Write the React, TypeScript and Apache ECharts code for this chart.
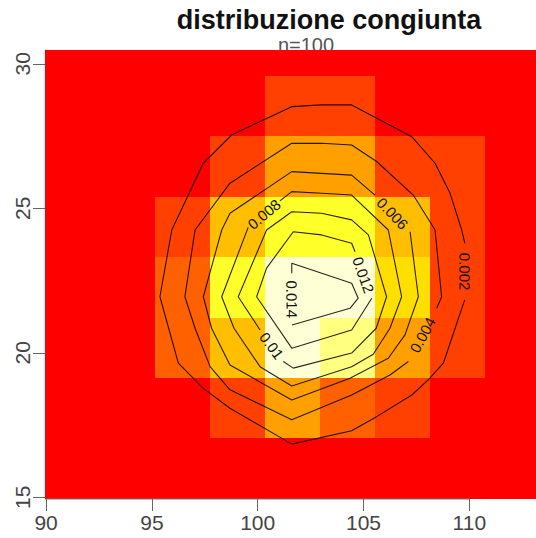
import React, { useEffect, useRef } from "react";
import * as echarts from "echarts";

// ---- image (heat map) grid ----
const cellXCenters = [91.25, 93.85, 96.45, 99.05, 101.65, 104.25, 106.85, 109.45, 112.05];
const cellYCenters = [15.99, 18.08, 20.17, 22.27, 24.36, 26.45, 28.54, 30.64];
// colour level (index into heatColors) per cell, rows from bottom (y) to top
const cellLevels = [
  [0, 0, 0, 0, 0, 0, 0, 0, 0],
  [0, 0, 0, 2, 5, 3, 2, 0, 0],
  [0, 0, 3, 6, 11, 10, 5, 2, 0],
  [0, 0, 3, 9, 11, 11, 7, 2, 0],
  [0, 0, 2, 6, 9, 9, 6, 2, 0],
  [0, 0, 0, 2, 5, 5, 2, 2, 0],
  [0, 0, 0, 0, 2, 2, 0, 0, 0],
  [0, 0, 0, 0, 0, 0, 0, 0, 0],
];
const heatColors = [
  "#FF0000", "#FF2000", "#FF4000", "#FF6000", "#FF8000", "#FF9F00",
  "#FFBF00", "#FFDF00", "#FFFF00", "#FFFF2A", "#FFFF80", "#FFFFD5",
];

// ---- contour lines (each stored starting right after its label gap) ----
const contourLevels = [0.002, 0.004, 0.006, 0.008, 0.01, 0.012, 0.014];
const contour002 = [
  [109.78, 21.83], [108.77, 19.64], [108.06, 19.06], [107.28, 18.54], [105.62, 17.79],
  [104.44, 17.3], [101.61, 16.84], [98.69, 18.08], [97.43, 18.77], [96.25, 19.64],
  [95.38, 21.94], [95.94, 24.25], [97.43, 26.56], [98.77, 27.54], [101.61, 28.52],
  [103.02, 28.58], [104.44, 28.58], [107.28, 27.48], [108.38, 26.56], [109.09, 25.52],
  [109.64, 24.25], [109.79, 23.79],
];
const contour004 = [
  [107.12, 19.7], [106.25, 19.23], [104.44, 18.54], [101.61, 17.68], [98.69, 18.72],
  [97.75, 19.52], [97.04, 20.85], [96.56, 21.94], [97.04, 24.25], [98.69, 25.87],
  [101.61, 27.25], [103.02, 27.25], [104.44, 27.19], [105.62, 26.62], [107.35, 25.46],
  [108.38, 24.25], [108.69, 21.94], [108.46, 21.54],
];
const contour006 = [
  [107.2, 24.19], [107.59, 21.94], [106.96, 20.62], [106.17, 19.81], [104.36, 19.12],
  [101.61, 18.37], [98.69, 19.58], [97.82, 20.85], [97.43, 21.94], [98.3, 24.25],
  [98.69, 24.83], [101.61, 26.27], [103.02, 26.21], [104.44, 26.15], [105.54, 25.46],
];
const contour008 = [
  [99.55, 24.34], [98.3, 21.94], [98.88, 20.85], [100.11, 19.52], [101.61, 18.85],
  [104.44, 19.52], [105.46, 19.95], [106.25, 20.85], [106.8, 21.94], [106.17, 24.25],
  [104.44, 25.46], [103.02, 25.52], [101.61, 25.58], [101.05, 25.26],
];
const contour010 = [
  [101.21, 19.7], [101.68, 19.47], [104.44, 19.99], [105.6, 20.85], [106.09, 21.94],
  [105.23, 24.08], [104.44, 24.6], [103.02, 24.83], [101.61, 24.88], [100.42, 24.25],
  [99.08, 21.94], [100.11, 20.79],
];
const contour012 = [
  [105.39, 21.89], [104.44, 20.79], [101.61, 20.16], [99.95, 21.94], [100.42, 22.93],
  [101.68, 24.19], [103.02, 24.08], [104.44, 23.79], [104.6, 23.5],
];
const contour014 = [
  [101.62, 20.96], [104.36, 21.54], [104.75, 21.89], [104.44, 22.41], [101.61, 23.1],
  [101.61, 22.75],
];
const contours = [contour002, contour004, contour006, contour008, contour010, contour012, contour014];

const xTicks = [90, 95, 100, 105, 110];
const yTicks = [15, 20, 25, 30];
const xRange = [89.95, 113.15];
const yRange = [14.94, 30.48];

const FONT = '"Liberation Sans", Arial, Helvetica, sans-serif';

function edges(centers: number[]) {
  const e: number[] = [];
  const n = centers.length;
  e.push(centers[0] - (centers[1] - centers[0]) / 2);
  for (let i = 1; i < n; i++) e.push((centers[i - 1] + centers[i]) / 2);
  e.push(centers[n - 1] + (centers[n - 1] - centers[n - 2]) / 2);
  return e;
}

export default function App() {
  const ref = useRef<HTMLDivElement>(null);
  useEffect(() => {
    if (!ref.current) return;
    const chart = echarts.init(ref.current, undefined, { renderer: "svg" });
    const xe = edges(cellXCenters);
    const ye = edges(cellYCenters);
    const cellData: number[][] = [];
    cellLevels.forEach((row, j) =>
      row.forEach((lv, i) => cellData.push([cellXCenters[i], cellYCenters[j], lv, i, j]))
    );
    const labelData = contours.map((c, k) => [
      (c[0][0] + c[c.length - 1][0]) / 2,
      (c[0][1] + c[c.length - 1][1]) / 2,
      k,
    ]);

    const option: any = {
      animation: false,
      grid: { left: 45, right: 0, top: 50, bottom: 39, containLabel: false },
      xAxis: {
        type: "value",
        min: xRange[0],
        max: xRange[1],
        axisLine: { show: false },
        splitLine: { show: false },
        axisTick: {
          show: true,
          customValues: xTicks,
          length: 12,
          lineStyle: { color: "#666", width: 1 },
        },
        axisLabel: {
          customValues: xTicks,
          fontSize: 21,
          color: "#444",
          fontFamily: FONT,
          margin: 13,
        },
      },
      yAxis: {
        type: "value",
        min: yRange[0],
        max: yRange[1],
        axisLine: { show: true, lineStyle: { color: "#666" } },
        splitLine: { show: false },
        axisTick: {
          show: true,
          customValues: yTicks,
          length: 12,
          lineStyle: { color: "#666", width: 1 },
        },
        axisLabel: {
          customValues: yTicks,
          fontSize: 21,
          color: "#444",
          fontFamily: FONT,
          rotate: 90,
          margin: 12,
        },
      },
      graphic: [
        {
          type: "text",
          x: 329,
          y: 20,
          z: 100,
          style: {
            text: "distribuzione congiunta",
            font: `bold 27px ${FONT}`,
            fill: "#111",
            align: "center",
            verticalAlign: "middle",
          },
        },
        {
          type: "text",
          x: 306,
          y: 45,
          z: 0,
          style: {
            text: "n=100",
            font: `20px ${FONT}`,
            fill: "#555",
            align: "center",
            verticalAlign: "middle",
          },
        },
      ],
      series: [
        {
          type: "custom",
          z: 2,
          silent: true,
          encode: { x: 0, y: 1 },
          data: cellData,
          renderItem: (params: any, api: any) => {
            const lv = api.value(2);
            const i = api.value(3);
            const j = api.value(4);
            const p0 = api.coord([xe[i], ye[j + 1]]);
            const p1 = api.coord([xe[i + 1], ye[j]]);
            const x0 = Math.round(p0[0]);
            const y0 = Math.round(p0[1]);
            const x1 = Math.round(p1[0]);
            const y1 = Math.round(p1[1]);
            const cs = params.coordSys;
            const shape = echarts.graphic.clipRectByRect(
              { x: x0, y: y0, width: x1 - x0, height: y1 - y0 },
              { x: cs.x, y: cs.y, width: cs.width, height: cs.height }
            );
            if (!shape) return null;
            return { type: "rect", shape, style: { fill: heatColors[lv], stroke: null } };
          },
        },
        ...contours.map((c) => ({
          type: "line",
          z: 3,
          silent: true,
          data: c,
          showSymbol: false,
          symbol: "none",
          lineStyle: { color: "#000", width: 1.1, opacity: 0.85 },
        })),
        {
          type: "line",
          z: 4,
          silent: true,
          data: [
            [xTicks[0], yRange[0]],
            [xTicks[xTicks.length - 1], yRange[0]],
          ],
          showSymbol: false,
          symbol: "none",
          clip: false,
          lineStyle: { color: "#777", width: 1 },
        },
        {
          type: "custom",
          z: 5,
          silent: true,
          encode: { x: 0, y: 1 },
          data: labelData,
          renderItem: (params: any, api: any) => {
            const k = api.value(2);
            const pts = contours[k];
            const a = api.coord(pts[pts.length - 1]);
            const b = api.coord(pts[0]);
            const cx = (a[0] + b[0]) / 2;
            const cy = (a[1] + b[1]) / 2;
            let ang = (Math.atan2(-(b[1] - a[1]), b[0] - a[0]) * 180) / Math.PI;
            if (ang > 92) ang -= 180;
            if (ang < -92) ang += 180;
            return {
              type: "text",
              x: cx,
              y: cy,
              rotation: (ang * Math.PI) / 180,
              style: {
                text: String(contourLevels[k]),
                fill: "#111",
                font: `15px ${FONT}`,
                align: "center",
                verticalAlign: "middle",
              },
            };
          },
        },
      ],
    };
    chart.setOption(option);
    return () => chart.dispose();
  }, []);
  return (
    <div
      ref={ref}
      style={{ position: "fixed", left: 0, top: 0, width: 536, height: 538, background: "#fff" }}
    />
  );
}
